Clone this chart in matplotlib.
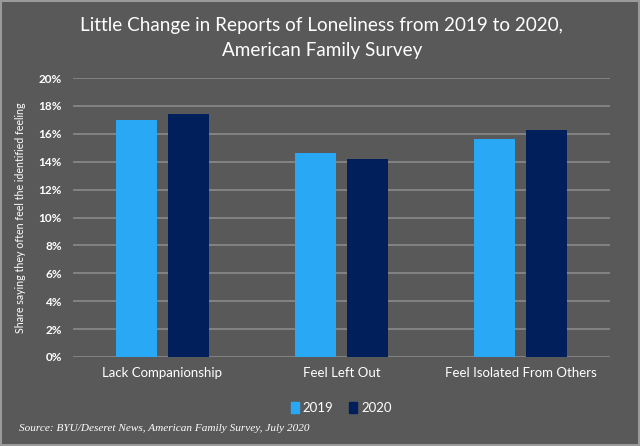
import matplotlib
matplotlib.use("Agg")
import matplotlib.pyplot as plt
from matplotlib.patches import Rectangle, Patch
from matplotlib.ticker import FuncFormatter, MultipleLocator
import numpy as np

categories = ["Lack Companionship", "Feel Left Out", "Feel Isolated From Others"]
series_names = ["2019", "2020"]
values_2019 = [17.0, 14.6, 15.6]
values_2020 = [17.4, 14.2, 16.3]
colors = ["#29A8F5", "#001F5B"]

bg = "#595959"
font = ["Lato", "DejaVu Sans"]
plt.rcParams['font.family'] = font

fig = plt.figure(figsize=(6.4, 4.46), dpi=100, facecolor=bg)
ax = fig.add_axes([0.114, 0.1996, 0.839, 0.6254])
ax.set_facecolor(bg)

x = np.arange(len(categories))
w = 0.229
off = 0.144
ax.bar(x - off, values_2019, w, color=colors[0], label=series_names[0], zorder=3)
ax.bar(x + off, values_2020, w, color=colors[1], label=series_names[1], zorder=3)

ax.set_xlim(-0.5, len(categories) - 0.5)
ax.set_ylim(0, 20)
ax.yaxis.set_major_locator(MultipleLocator(2))
ax.yaxis.set_major_formatter(FuncFormatter(lambda v, p: f"{v:.0f}%"))
ax.grid(axis="y", color="#8a8a8a", linewidth=1.2, zorder=0)
for s in ax.spines.values():
    s.set_visible(False)
ax.tick_params(axis="both", length=0, colors="white")
ax.tick_params(axis="y", labelsize=8.5, pad=8)
ax.tick_params(axis="x", labelsize=9.5, pad=7)
ax.set_xticks(x)
ax.set_xticklabels(categories)
for t in ax.get_yticklabels():
    t.set_fontweight("bold")

ax.set_ylabel("Share saying they often feel the identified feeling", color="white",
              fontsize=7.7, labelpad=9)

fig.text(0.503, 0.943, "Little Change in Reports of Loneliness from 2019 to 2020,",
         ha="center", va="center", color="white", fontsize=13.6)
fig.text(0.503, 0.887, "American Family Survey", ha="center", va="center",
         color="white", fontsize=13.6)

handles = [Patch(color=colors[0]), Patch(color=colors[1])]
leg = fig.legend(handles, series_names, loc="center", bbox_to_anchor=(0.533, 0.085),
                 ncol=2, frameon=False, fontsize=9.5, handlelength=0.6,
                 handleheight=0.9, handletextpad=0.3, columnspacing=1.2)
for t in leg.get_texts():
    t.set_color("white")

fig.text(0.03, 0.04, "Source: BYU/Deseret News, American Family Survey, July 2020",
         ha="left", va="center", color="white", fontsize=8.1, style="italic",
         family=["Liberation Serif", "DejaVu Serif"])

fig.patches.append(Rectangle((0.002, 0.003), 0.996, 0.994, transform=fig.transFigure,
                             fill=False, edgecolor="#9a9a9a", linewidth=1.5))

fig.savefig("out.png", dpi=100, facecolor=bg)
